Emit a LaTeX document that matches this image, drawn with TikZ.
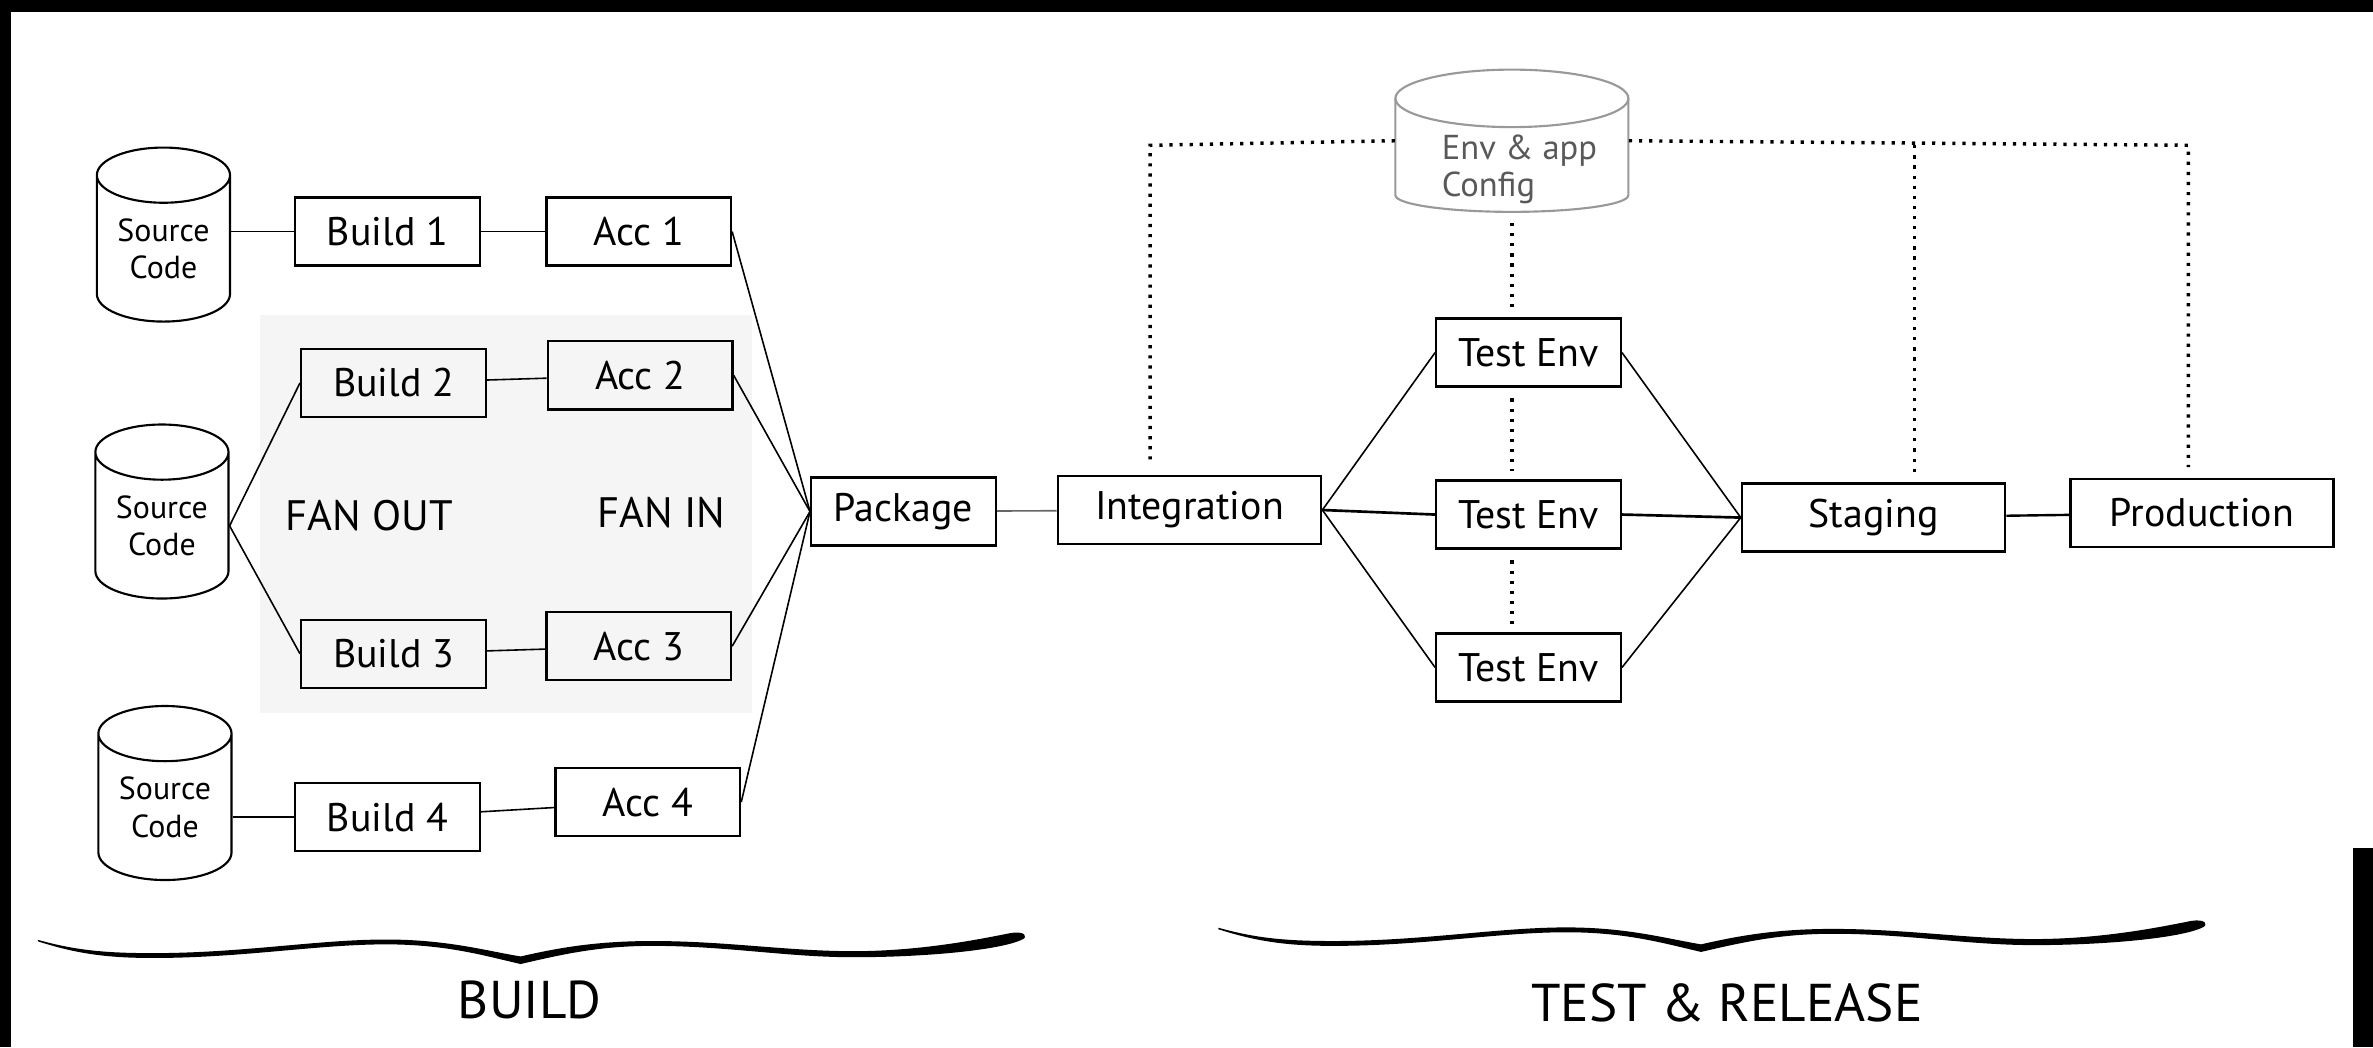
\documentclass[tikz,border=0pt]{standalone}
\usepackage{fontspec}
\setmainfont{PT Sans}
\usetikzlibrary{shapes.geometric}

\tikzset{
  wavybrace/.pic={
    \fill (25,621) .. controls (50,628) and (70,629.8) .. (101,629.8)
      .. controls (160,629.8) and (210,620.8) .. (255,620.8)
      .. controls (295,620.8) and (320,628) .. (344,632)
      .. controls (370,626) and (395,621.8) .. (431,621.8)
      .. controls (480,621.8) and (520,628.5) .. (564,628.5)
      .. controls (610,628.5) and (650,620) .. (668,616.5)
      .. controls (677,615) and (680,619) .. (675,621)
      .. controls (660,628) and (610,632.5) .. (564,632.5)
      .. controls (520,632.5) and (480,625) .. (431,625)
      .. controls (395,625) and (370,631) .. (344,637)
      .. controls (320,631.5) and (295,624) .. (255,624)
      .. controls (210,624) and (160,633) .. (101,633)
      .. controls (70,633) and (50,630) .. (25,622) -- cycle;
  }
}

\begin{document}
\begin{tikzpicture}[%
    x=0.02cm,
    y=-0.02cm,
    box/.style={
      rectangle,
      draw=black,
      line width=0.9pt,
      minimum width=2.44cm,
      minimum height=0.9cm,
      inner sep=0pt,
      font=\fontsize{15}{18}\selectfont
    },
    widebox/.style={
      box,
      minimum width=3.48cm
    },
    store/.style={
      cylinder,
      shape border rotate=90,
      aspect=0.6,
      anchor=shape center,
      draw=black,
      line width=0.8pt,
      minimum width=1.76cm,
      minimum height=2.3cm,
      inner sep=0pt,
      align=center,
      font=\fontsize{12}{14}\selectfont
    },
    cfgnode/.style={
      rectangle,
      minimum width=3.08cm,
      minimum height=1.88cm,
      inner sep=0pt
    },
    cfgline/.style={
      draw=black!40,
      line width=0.8pt
    },
    cfgtext/.style={
      align=left,
      text=black!65,
      font=\fontsize{13}{14}\selectfont
    },
    link/.style={
      draw,
      line width=0.6pt
    },
    dotline/.style={
      draw,
      line width=1.3pt,
      dash pattern=on 1.2pt off 2.6pt
    },
    caption/.style={
      font=\fontsize{20}{24}\selectfont
    },
    fan/.style={
      font=\fontsize{16}{19}\selectfont
    }
  ]
  \useasboundingbox (0,0) rectangle (1568,692);

  % frame of the screenshot
  \fill[black] (0,0) rectangle (1568,8);
  \fill[black] (0,0) rectangle (7,692);
  \fill[black] (1555,560) rectangle (1568,692);

  % fan out / fan in panel
  \fill[black!4] (172,208) rectangle (497,471);

  % build side
  \draw (108,155) node[store] (src1) {Source\\Code};
  \draw (107,338) node[store] (src2) {Source\\Code};
  \draw (109,524) node[store] (src3) {Source\\Code};

  \draw (256,153) node[box] (build1) {Build 1};
  \draw (260,253) node[box] (build2) {Build 2};
  \draw (260,432) node[box] (build3) {Build 3};
  \draw (256,540) node[box] (build4) {Build 4};

  \draw (422,153) node[box] (acc1) {Acc 1};
  \draw (423,248) node[box] (acc2) {Acc 2};
  \draw (422,427) node[box] (acc3) {Acc 3};
  \draw (428,530) node[box] (acc4) {Acc 4};

  \draw (244,341) node[fan] (fanout) {FAN OUT};
  \draw (437,339) node[fan] (fanin) {FAN IN};

  \draw (597,338) node[box] (package) {Package};

  % test & release side
  \draw (786,337) node[widebox] (integration) {Integration};
  \draw (1010,233) node[box] (testenv1) {Test Env};
  \draw (1010,340) node[box] (testenv2) {Test Env};
  \draw (1010,441) node[box] (testenv3) {Test Env};
  \draw (1238,342) node[widebox] (staging) {Staging};
  \draw (1455,339) node[widebox] (production) {Production};

  % config store, drawn by hand
  \draw (999,93) node[cfgnode] (envcfg) {};
  \draw[cfgline] (999,65) ellipse[x radius=1.54cm, y radius=0.38cm];
  \draw[cfgline] (922,65) -- (922,129) arc[start angle=180, end angle=360, x radius=1.54cm, y radius=0.22cm] -- (1076,65);
  \draw (1004,112) node[cfgtext] (envtext) {Env \& app\\Config};

  % connectors
  \draw[link] (src1.east |- build1.west) -- (build1.west);
  \draw[link] (build1) -- (acc1);
  \draw[link] (src2.east) -- (build2.west);
  \draw[link] (src2.east) -- (build3.west);
  \draw[link] (build2) -- (acc2);
  \draw[link] (build3) -- (acc3);
  \draw[link] (src3.east |- build4.west) -- (build4.west);
  \draw[link] (build4) -- (acc4);

  \draw[link] (acc1.east) -- (package.west);
  \draw[link] (acc2.east) -- (package.west);
  \draw[link] (acc3.east) -- (package.west);
  \draw[link] (acc4.east) -- (package.west);
  \draw[link, draw=black!60] (package) -- (integration);

  \draw[link] (integration.east) -- (testenv1.west);
  \draw[link, line width=1pt] (integration.east) -- (testenv2.west);
  \draw[link] (integration.east) -- (testenv3.west);
  \draw[link] (testenv1.east) -- (staging.west);
  \draw[link, line width=1pt] (testenv2.east) -- (staging.west);
  \draw[link] (testenv3.east) -- (staging.west);
  \draw[link, line width=0.9pt] (staging) -- (production);

  % config feeds
  \coordinate (cfgleft) at (760,96);
  \coordinate (cfgstage) at (1265,96);
  \coordinate (cfgright) at (1446,96);
  \draw[dotline, shorten >=5pt] (envcfg.west) -- (cfgleft) -- (cfgleft |- integration.north);
  \draw[dotline, shorten >=4pt] (envcfg.east) -- (cfgright) -- (cfgright |- production.north);
  \draw[dotline, shorten >=2pt] (cfgstage) -- (cfgstage |- staging.north);
  \draw[dotline, shorten <=4pt, shorten >=3pt] (envcfg.south) -- (envcfg.south |- testenv1.north);
  \draw[dotline, shorten <=4pt, shorten >=3pt] (envcfg.south |- testenv1.south) -- (envcfg.south |- testenv2.north);
  \draw[dotline, shorten <=4pt, shorten >=3pt] (envcfg.south |- testenv2.south) -- (envcfg.south |- testenv3.north);

  % braces
  \pic at (0,0) {wavybrace};
  \pic at (780,-8) {wavybrace};
  \draw (350,661) node[caption] (buildcap) {BUILD};
  \draw (1141,663) node[caption] (testcap) {TEST \& RELEASE};
\end{tikzpicture}
\end{document}
